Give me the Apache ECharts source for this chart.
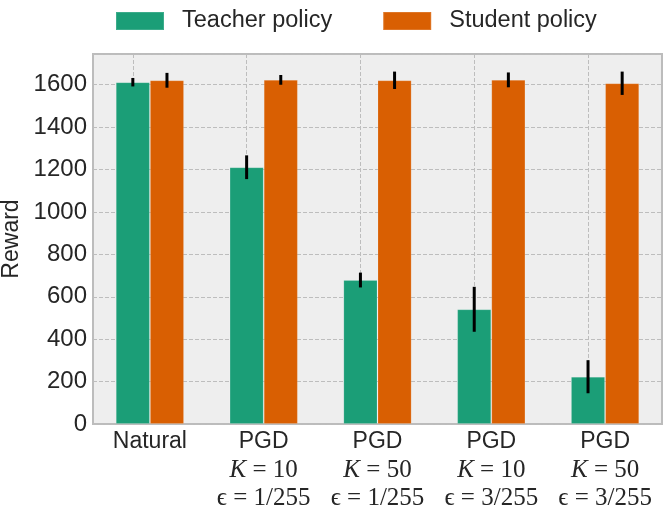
<!DOCTYPE html>
<html>
<head>
<meta charset="utf-8">
<script src="https://cdn.jsdelivr.net/npm/echarts@6/dist/echarts.min.js"></script>
<style>
  html, body { margin: 0; padding: 0; background: #fff; }
  #chart { width: 664px; height: 513px; }
</style>
</head>
<body>
<div id="chart"></div>
<script>
    // data
    var categories = ['Natural', 'PGD K10 e1', 'PGD K50 e1', 'PGD K10 e3', 'PGD K50 e3'];
    var attackNames = ['Natural', 'PGD', 'PGD', 'PGD', 'PGD'];
    var kLabels = ['', '10', '50', '10', '50'];
    var epsLabels = ['', '1/255', '1/255', '3/255', '3/255'];

    var teacherReward = [1612, 1211, 679, 541, 223];
    var teacherErr = [20, 56, 35, 106, 78];
    var studentReward = [1621, 1623, 1621, 1623, 1607];
    var studentErr = [35, 23, 41, 35, 55];

    var yTicks = [0, 200, 400, 600, 800, 1000, 1200, 1400, 1600];

    var teacherColor = '#1b9e77';
    var studentColor = '#d95f02';
    var textColor = '#262626';
    var sansFont = 'Liberation Sans';
    var serifFont = '"Liberation Serif", "DejaVu Serif", serif';

    initChart();

    function errData(values, errs) {
        return values.map(function (v, i) {
            return [i, v, errs[i]];
        });
    }

    function errRenderer(sign) {
        return function (params, api) {
            var idx = api.value(0);
            var v = api.value(1);
            var e = api.value(2);
            var band = api.size([1, 0])[0];
            var lo = api.coord([idx, v - e]);
            var hi = api.coord([idx, v + e]);
            var dx = sign * band * 0.15;
            return {
                type: 'line',
                shape: { x1: lo[0] + dx, y1: lo[1], x2: hi[0] + dx, y2: hi[1] },
                style: { stroke: '#000', lineWidth: 3 }
            };
        };
    }

    function initChart() {
        var chartDom = document.getElementById('chart');
        var myChart = echarts.init(chartDom);

        var option = {
            animation: false,
            legend: {
                data: ['Teacher policy', 'Student policy'],
                left: 110,
                top: 4,
                itemWidth: 48,
                itemHeight: 18,
                itemGap: 50,
                icon: 'rect',
                textStyle: {
                    fontFamily: sansFont,
                    fontSize: 23.5,
                    color: textColor,
                    padding: [0, 0, 0, 13]
                }
            },
            grid: {
                left: 93,
                right: 2,
                top: 54,
                bottom: 89,
                outerBoundsMode: 'none',
                containLabel: false,
                show: true,
                backgroundColor: '#eeeeee',
                borderColor: '#bcbcbc',
                borderWidth: 2
            },
            xAxis: {
                type: 'category',
                data: categories,
                axisLine: { show: false },
                axisTick: { show: false },
                splitLine: { show: false },
                axisLabel: {
                    margin: 4,
                    interval: 0,
                    formatter: function (val, i) {
                        if (!kLabels[i]) {
                            return '{a|' + attackNames[i] + '}';
                        }
                        return '{a|' + attackNames[i] + '}\n' +
                            '{k|K}{m| = ' + kLabels[i] + '}\n' +
                            '{m|\u03f5 = ' + epsLabels[i] + '}';
                    },
                    rich: {
                        a: { fontFamily: sansFont, fontSize: 23, color: textColor, lineHeight: 28 },
                        k: { fontFamily: serifFont, fontStyle: 'italic', fontSize: 25, color: textColor, lineHeight: 28 },
                        m: { fontFamily: serifFont, fontSize: 25, color: textColor, lineHeight: 28 }
                    }
                }
            },
            yAxis: {
                type: 'value',
                min: yTicks[0],
                max: 1745,
                interval: yTicks[1] - yTicks[0],
                name: 'Reward',
                nameLocation: 'middle',
                nameGap: 66,
                nameTextStyle: { fontFamily: sansFont, fontSize: 23, color: textColor },
                axisLine: { show: false },
                axisTick: { show: false },
                axisLabel: {
                    showMaxLabel: false,
                    margin: 6,
                    fontFamily: sansFont,
                    fontSize: 24,
                    color: textColor,
                    formatter: function (v) { return String(v); }
                },
                splitLine: {
                    lineStyle: { type: [4, 2], color: '#bdbdbd', width: 1 }
                }
            },
            series: [
                {
                    name: 'Teacher policy',
                    type: 'bar',
                    barWidth: '30%',
                    barGap: '0%',
                    itemStyle: { color: teacherColor, borderColor: 'rgba(255,255,255,0.15)', borderWidth: 1 },
                    data: teacherReward,
                    markLine: {
                        silent: true,
                        z: 1,
                        symbol: 'none',
                        label: { show: false },
                        lineStyle: { type: [4, 2], color: '#bdbdbd', width: 1 },
                        data: categories.map(function (c) { return { xAxis: c }; })
                    }
                },
                {
                    name: 'Student policy',
                    type: 'bar',
                    barWidth: '30%',
                    barGap: '0%',
                    itemStyle: { color: studentColor, borderColor: 'rgba(255,255,255,0.15)', borderWidth: 1 },
                    data: studentReward
                },
                {
                    name: 'teacherErr',
                    type: 'custom',
                    z: 5,
                    renderItem: errRenderer(-1),
                    data: errData(teacherReward, teacherErr)
                },
                {
                    name: 'studentErr',
                    type: 'custom',
                    z: 5,
                    renderItem: errRenderer(1),
                    data: errData(studentReward, studentErr)
                }
            ]
        };

        option && myChart.setOption(option);
    }
</script>
</body>
</html>
